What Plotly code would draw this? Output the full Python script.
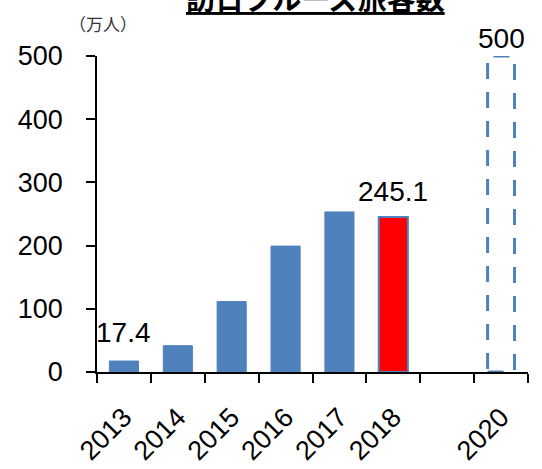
import plotly.graph_objects as go

# ---- data ----
categories = ["2013", "2014", "2015", "2016", "2017", "2018", "2019", "2020"]
tick_labels = ["2013", "2014", "2015", "2016", "2017", "2018", "", "2020"]
actual_values = [17.4, 41.6, 111.6, 199.2, 253.3, 245.1, None, None]
target_category = "2020"
target_value = 500
labelled = [("2013", 17.4), ("2018", 245.1), ("2020", 500)]
title_text = "訪日クルーズ旅客数"
unit_text = "（万人）"

BLUE = "#4F81BD"
RED = "#FF0000"
NUM_FONT = "Liberation Sans, Arial, sans-serif"
CJK_FONT = "Noto Sans CJK JP, sans-serif"

bar_colors = [RED if c == "2018" else BLUE for c in categories]
bar_line_w = [2 if c == "2018" else 1 for c in categories]

fig = go.Figure()
fig.add_trace(go.Bar(
    x=categories, y=actual_values,
    marker=dict(color=bar_colors, line=dict(color=BLUE, width=bar_line_w)),
    width=0.54, showlegend=False, hoverinfo="skip",
))

# dashed outline for the target bar (category index on the category axis)
half = 0.25
ti = categories.index(target_category)
fig.add_shape(
    type="rect", xref="x", yref="y",
    x0=ti - half, x1=ti + half,
    y0=0, y1=target_value,
    line=dict(color=BLUE, width=3, dash="16px,13px"),
    fillcolor="rgba(0,0,0,0)", layer="above",
)

label_shift = {"2013": 11, "2018": 8, "2020": 0}
for cat, val in labelled:
    fig.add_annotation(
        x=categories.index(cat), y=val, xref="x", yref="y", text=f"{val:g}", showarrow=False,
        yanchor="bottom", yshift=label_shift[cat],
        font=dict(family=NUM_FONT, size=28, color="black"),
    )

fig.add_annotation(
    x=0.508, y=1.187, xref="paper", yref="paper", xanchor="center", yanchor="middle",
    text=f"<b><u>{title_text}</u></b>", showarrow=False,
    font=dict(family=CJK_FONT, size=29, color="black"),
)
fig.add_annotation(
    x=0.014, y=1.104, xref="paper", yref="paper", xanchor="center", yanchor="middle",
    text=unit_text, showarrow=False,
    font=dict(family=CJK_FONT, size=17, color="#333333"),
)

fig.update_layout(
    width=542, height=469,
    margin=dict(l=97, r=14, t=56, b=97, autoexpand=False),
    paper_bgcolor="white", plot_bgcolor="white",
    font=dict(family=NUM_FONT, color="black"),
)
fig.update_xaxes(
    type="category", categoryorder="array", categoryarray=categories,
    range=[-0.5, len(categories) - 0.5], automargin=False,
    tickmode="array", tickvals=categories, ticktext=tick_labels,
    tickson="boundaries", ticks="outside", ticklen=9, tickwidth=1.5, tickcolor="black",
    showline=True, linecolor="black", linewidth=1.5,
    showgrid=False, zeroline=False,
    tickangle=-45, tickfont=dict(family=NUM_FONT, size=27, color="black"),
    ticklabelstandoff=17,
)
fig.update_yaxes(
    range=[0, 500], tickmode="linear", tick0=0, dtick=100, automargin=False,
    ticks="outside", ticklen=9, tickwidth=1.5, tickcolor="black",
    showline=True, linecolor="black", linewidth=1.5,
    showgrid=False, zeroline=False,
    tickfont=dict(family=NUM_FONT, size=27, color="black"),
    ticklabelstandoff=18,
)

fig.write_html("out.html")
